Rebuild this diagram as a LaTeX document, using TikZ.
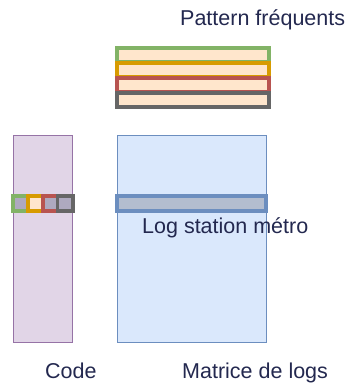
\documentclass[tikz,border=0pt]{standalone}
\usepackage{fontspec}
\setmainfont{Liberation Sans}
\usepackage{tikz}
\usepackage{xcolor}
\usetikzlibrary{positioning}
\definecolor{ink}{HTML}{23284F}
\definecolor{codebg}{HTML}{E1D5E7}
\definecolor{codeline}{HTML}{9673A6}
\definecolor{logbg}{HTML}{DAE8FC}
\definecolor{logline}{HTML}{6C8EBF}
\definecolor{rowbg}{HTML}{B3BDCF}
\definecolor{cellbg}{HTML}{AEA9BF}
\definecolor{patbg}{HTML}{FFE6CC}
\definecolor{patgreen}{HTML}{82B366}
\definecolor{patyellow}{HTML}{D79B00}
\definecolor{patred}{HTML}{B85450}
\definecolor{patgray}{HTML}{666666}
\tikzset{
  tallbox/.style={
    draw, line width=1.3pt, anchor=north west, inner sep=0pt,
    minimum height=207pt
  },
  patternbar/.style={
    draw=#1, fill=patbg, line width=3.5pt, anchor=north west,
    inner sep=0pt, minimum width=152pt, minimum height=14pt
  },
  codecell/.style={
    draw=#1, fill=cellbg, line width=3.5pt, anchor=north west,
    inner sep=0pt, minimum width=15pt, minimum height=15pt
  },
  caption/.style={
    anchor=base west, inner sep=0pt, text=ink,
    font=\fontsize{21.5}{26}\selectfont
  }
}

\begin{document}
\begin{tikzpicture}[x=1pt,y=-1pt]
  \useasboundingbox (0,0) rectangle (351,384);

  % the two columns
  \node[tallbox, draw=codeline, fill=codebg, minimum width=59pt] (code) at (12.5,134.5) {};
  \node[tallbox, draw=logline, fill=logbg, minimum width=149.5pt] (matrix) at (116.5,134.5) {};

  % stacked frequent patterns
  \node[patternbar=patgreen] (patA) at (115,46) {};
  \node[patternbar=patyellow] (patB) at (115,61) {};
  \node[patternbar=patred] (patC) at (115,76) {};
  \node[patternbar=patgray] (patD) at (115,91) {};

  % one log row and its code
  \node[draw=logline, fill=rowbg, line width=3.5pt, anchor=north west, inner sep=0pt,
        minimum width=149pt, minimum height=15pt] (logrow) at (115,194) {};
  \node[codecell=patgreen] (cellA) at (11,194) {};
  \node[codecell=patyellow, fill=patbg] (cellB) at (26,194) {};
  \node[codecell=patred] (cellC) at (41,194) {};
  \node[codecell=patgray, minimum width=15.5pt] (cellD) at (55.5,194) {};

  % labels
  \node[caption] (patlabel) at (180,25) {Pattern fréquents};
  \node[caption] (rowlabel) at (142,233) {Log station métro};
  \node[caption] (codelabel) at (45,378) {Code};
  \node[caption] (matlabel) at (182,378) {Matrice de logs};
\end{tikzpicture}
\end{document}
